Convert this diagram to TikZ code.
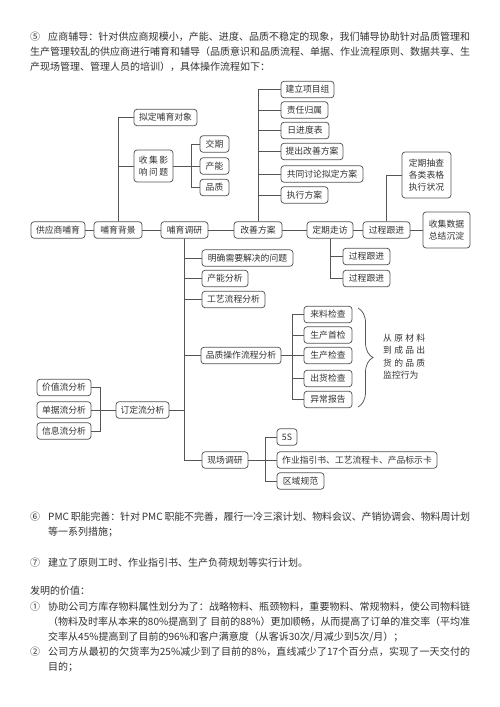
\documentclass[tikz,border=0pt]{standalone}
\usepackage{fontspec}
\setmainfont{Noto Sans CJK SC}
\usetikzlibrary{decorations.pathreplacing}
\XeTeXlinebreaklocale "zh"
\XeTeXlinebreakskip=0pt plus 1pt minus 0.3pt
\definecolor{ln}{RGB}{85,85,85}
\definecolor{tx}{RGB}{50,50,50}
\tikzset{
  bx/.style={draw=ln, line width=0.75pt, rounded corners=3pt, inner sep=0pt, text=tx,
    font=\fontsize{8.8}{12}\selectfont, minimum height=16.5pt, align=center},
  con/.style={draw=ln, line width=0.75pt},
  para/.style={anchor=base west, inner sep=0pt, text=tx, text width=440pt,
    font=\fontsize{10}{15}\selectfont, align=justify},
  btxt/.style={anchor=west, inner sep=0pt, text=tx, font=\fontsize{8.8}{12}\selectfont}
}
\begin{document}
\begin{tikzpicture}[x=1pt,y=-1pt]
\fill[white] (0,0) rectangle (500,707);
\useasboundingbox (0,0) rectangle (500,707);

% ---------- top paragraph ----------
\node[para] (p5) at (30,40.5) {\noindent\makebox[18pt][l]{⑤}应商辅导：针对供应商规模小，产能、进度、品质不稳定的现象，我们辅导协助针对品质管理和\linebreak 生产管理较乱的供应商进行哺育和辅导（品质意识和品质流程、单据、作业流程原则、数据共享、生\linebreak 产现场管理、管理人员的培训），具体操作流程如下：\par};

% ---------- main chain ----------
\node[bx, minimum width=54pt] (sup) at (58,230) {供应商哺育};
\node[bx, minimum width=48pt] (bg) at (118,230) {哺育背景};
\node[bx, minimum width=47pt] (dy) at (184.5,230) {哺育调研};
\node[bx, minimum width=48pt] (gs) at (258,230) {改善方案};
\node[bx, minimum width=46pt] (dq) at (330,230) {定期走访};
\node[bx, minimum width=47pt] (gc) at (386.5,230) {过程跟进};
\node[bx, minimum width=47pt, minimum height=36pt] (sj) at (446.5,230) {收集数据\\总结沉淀};
\node[bx, minimum width=49pt, minimum height=46pt] (cc) at (426.5,175) {定期抽查\\各类表格\\执行状况};

% background branch
\node[bx, minimum width=63pt] (nd) at (165.5,117.5) {拟定哺育对象};
\node[bx, minimum width=39pt, minimum height=32pt] (sjq) at (153.5,166) {收\,集\,影\\响\,问\,题};
\node[bx, minimum width=29pt] (jq) at (214.5,144) {交期};
\node[bx, minimum width=29pt] (cn) at (214.5,166) {产能};
\node[bx, minimum width=29pt] (pz) at (214.5,187.5) {品质};

% improvement plan branch
\node[bx, minimum width=53pt] (a1) at (307.5,89.5) {建立项目组};
\node[bx, minimum width=47pt] (a2) at (304.5,110) {责任归属};
\node[bx, minimum width=48pt] (a3) at (305,130.5) {日进度表};
\node[bx, minimum width=62pt] (a4) at (312,151.5) {提出改善方案};
\node[bx, minimum width=82pt] (a5) at (322,174) {共同讨论拟定方案};
\node[bx, minimum width=47pt] (a6) at (304.5,195) {执行方案};

% visit branch
\node[bx, minimum width=47pt] (b1) at (366.5,256.5) {过程跟进};
\node[bx, minimum width=47pt] (b2) at (366.5,278.5) {过程跟进};

% research branch
\node[bx, minimum width=91pt] (c1) at (247.5,258) {明确需要解决的问题};
\node[bx, minimum width=46pt] (c2) at (225,278.5) {产能分析};
\node[bx, minimum width=63pt] (c3) at (233.5,299.5) {工艺流程分析};
\node[bx, minimum width=80pt] (c4) at (241,355.5) {品质操作流程分析};
\node[bx, minimum width=53pt] (c5) at (142.5,410) {订定流分析};
\node[bx, minimum width=46pt] (c6) at (225,460) {现场调研};

\node[bx, minimum width=48pt] (d1) at (328,314.5) {来料检查};
\node[bx, minimum width=48pt] (d2) at (328,335) {生产首检};
\node[bx, minimum width=48pt] (d3) at (328,355.5) {生产检查};
\node[bx, minimum width=48pt] (d4) at (328,378.5) {出货检查};
\node[bx, minimum width=48pt] (d5) at (328,399.5) {异常报告};

\node[bx, minimum width=54pt] (e1) at (64,387.5) {价值流分析};
\node[bx, minimum width=54pt] (e2) at (64,410) {单据流分析};
\node[bx, minimum width=54pt] (e3) at (64,431) {信息流分析};

\node[bx, minimum width=20pt] (f1) at (287,437) {5S};
\node[bx, minimum width=160pt] (f2) at (357,460) {作业指引书、工艺流程卡、产品标示卡};
\node[bx, minimum width=47pt] (f3) at (300.5,481) {区域规范};

% brace text
\node[btxt] (t1) at (383,338) {\makebox[42pt][s]{从\hfill 原\hfill 材\hfill 料}};
\node[btxt] (t2) at (383,350.5) {\makebox[42pt][s]{到\hfill 成\hfill 品\hfill 出}};
\node[btxt] (t3) at (383,363) {\makebox[42pt][s]{货\hfill 的\hfill 品\hfill 质}};
\node[btxt] (t4) at (383,375.5) {监控行为};

% ---------- connectors ----------
\draw[con] (sup.east) -- (bg.west);
\draw[con] (bg.east) -- (dy.west);
\draw[con] (dy.east) -- (gs.west);
\draw[con] (gs.east) -- (dq.west);
\draw[con] (dq.east) -- (gc.west);
\draw[con] (gc.east) -- (sj.west);
\draw[con] (gc.north) |- (cc.west);

\draw[con] (bg.north) |- (nd.west);
\draw[con] (bg.north) |- (sjq.west);
\coordinate (j1) at (191,166);
\draw[con] (sjq.east) -- (j1);
\draw[con] (j1) |- (jq.west);
\draw[con] (j1) -- (cn.west);
\draw[con] (j1) |- (pz.west);

\foreach \n in {a1,a2,a3,a4,a5,a6} \draw[con] (gs.north) |- (\n.west);
\draw[con] (dq.south) |- (b1.west);
\draw[con] (dq.south) |- (b2.west);

\foreach \n in {c1,c2,c3,c4,c6} \draw[con] (dy.south) |- (\n.west);
\draw[con] (dy.south) |- (c5.east);

\coordinate (q) at (292,355.5);
\draw[con] (c4.east) -- (q);
\foreach \n in {d1,d2,d3,d4,d5} \draw[con] (q) |- (\n.west);

\coordinate (v) at (100,410);
\draw[con] (c5.west) -- (e2.east);
\draw[con] (e1.east) -| (v);
\draw[con] (v) |- (e3.east);

\coordinate (s) at (265,460);
\draw[con] (c6.east) -- (s);
\draw[con] (s) |- (f1.west);
\draw[con] (s) -- (f2.west);
\draw[con] (s) |- (f3.west);

\coordinate (br1) at (358,308);
\coordinate (br2) at (358,407);
\draw[con, decorate, decoration={brace, amplitude=15pt}] (br1) -- (br2);

% ---------- lower paragraphs ----------
\node[para] (p6) at (30,520.5) {\noindent\hangindent=18pt\hangafter=1 \makebox[18pt][l]{⑥}PMC 职能完善：针对 PMC 职能不完善，履行一冷三滚计划、物料会议、产销协调会、物料周计划\linebreak 等一系列措施；\par};
\node[para] (p7) at (30,566) {\noindent\makebox[18pt][l]{⑦}建立了原则工时、作业指引书、生产负荷规划等实行计划。\par};
\node[para] (pv) at (30,594) {\noindent 发明的价值：\par};
\node[para] (p1) at (30,610.5) {\noindent\hangindent=18pt\hangafter=1 \makebox[18pt][l]{①}协助公司方库存物料属性划分为了：战略物料、瓶颈物料，重要物料、常规物料，使公司物料链\linebreak （物料及时率从本来的80\%提高到了 目前的88\%）更加顺畅，从而提高了订单的准交率（平均准\linebreak 交率从45\%提高到了目前的96\%和客户满意度（从客诉30次/月减少到5次/月）；\par
\noindent\hangindent=18pt\hangafter=1 \makebox[18pt][l]{②}公司方从最初的欠货率为25\%减少到了目前的8\%，直线减少了17个百分点，实现了一天交付的\linebreak 目的；\par};
\end{tikzpicture}
\end{document}
